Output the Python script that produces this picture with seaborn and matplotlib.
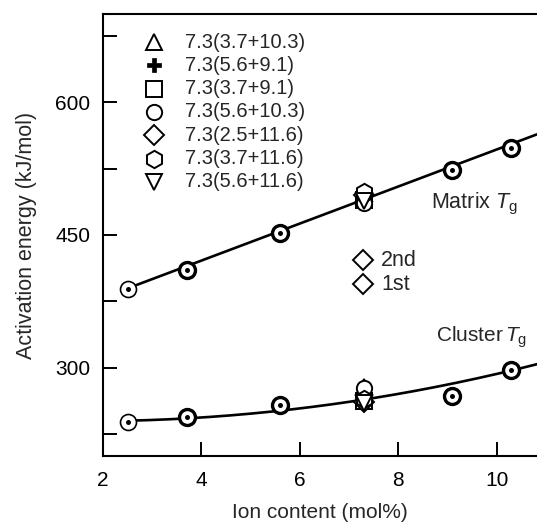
import numpy as np
import pandas as pd
import matplotlib
matplotlib.use("Agg")
import matplotlib.pyplot as plt
import seaborn as sns

sns.set_theme(style="ticks")
plt.rcParams["font.family"] = ["Liberation Sans", "DejaVu Sans"]
plt.rcParams["mathtext.fontset"] = "custom"
plt.rcParams["mathtext.rm"] = "Liberation Sans"
plt.rcParams["mathtext.it"] = "Liberation Sans:italic"

# Single-composition samples (bullseye markers)
ion_content = [2.5, 3.7, 5.6, 9.1, 10.3]
matrix_ea = [389, 410.5, 452.5, 524, 548]
cluster_ea = [239, 244, 258, 268, 297]

# Blends at 7.3 mol% average ion content
blend_labels = ["7.3(3.7+10.3)", "7.3(5.6+9.1)", "7.3(3.7+9.1)", "7.3(5.6+10.3)",
                "7.3(2.5+11.6)", "7.3(3.7+11.6)", "7.3(5.6+11.6)"]
blend_markers = ["^", "P", "s", "o", "D", "h", "v"]
blend_x = 7.3
blend_matrix = [497, 492, 490, 486, 495, 499, 488]
blend_cluster = [278, 263, 262, 277, 261, 264, 260]

# Points used for the cluster trend curve
cluster_fit_x = [2.5, 3.7, 7.3, 10.3]
cluster_fit_y = [239, 244, 263, 297]

W, H = 537, 525
L, R, T, B = 103, 537, 14, 456
fig = plt.figure(figsize=(W / 100, H / 100), dpi=100)
ax = fig.add_axes([L / W, 1 - B / H, (R - L) / W, (B - T) / H])


def ax_xy(px, py):
    """Pixel position in the figure -> axes fraction."""
    return (px - L) / (R - L), 1 - (py - T) / (B - T)


xfit = np.linspace(2.5, 10.82, 200)
m_coef = np.polyfit(ion_content + [blend_x] * len(blend_matrix),
                    matrix_ea + blend_matrix, 1)
c_coef = np.polyfit(cluster_fit_x, cluster_fit_y, 2)
fits = pd.DataFrame({"x": xfit,
                     "matrix": np.polyval(m_coef, xfit),
                     "cluster": np.polyval(c_coef, xfit)})
for col in ["matrix", "cluster"]:
    sns.lineplot(data=fits, x="x", y=col, ax=ax, color="black", lw=1.9, zorder=2)


def marker_style(mk):
    if mk == "P":
        return dict(ms=9.5, mfc="black", mec="black", mew=0.5)
    if mk == "h":
        return dict(ms=12.5, mfc="white", mec="black", mew=1.4)
    if mk == "D":
        return dict(ms=10.5, mfc="white", mec="black", mew=1.4)
    return dict(ms=11, mfc="white", mec="black", mew=1.4)


# Blend markers
for mk, ym, yc in zip(blend_markers, blend_matrix, blend_cluster):
    for yv in (ym, yc):
        ax.plot([blend_x], [yv], marker=mk, ls="none", zorder=3, **marker_style(mk))

# Bullseye markers for the single samples
for i, xv in enumerate(ion_content):
    mew = 1.2 if i == 0 else 2.4
    for yv in (matrix_ea[i], cluster_ea[i]):
        ax.plot([xv], [yv], marker="o", ms=11.5, mfc="white", mec="black",
                mew=mew, ls="none", zorder=4)
        ax.plot([xv], [yv], marker="o", ms=3.6, mfc="black", mec="black",
                mew=0, ls="none", zorder=5)

ax.set_xlim(2, 10.82)
ax.set_ylim(200, 700)
ax.set_xticks([2, 4, 6, 8, 10])
ax.set_yticks([300, 450, 600])
ax.set_yticks([225, 375, 525, 675], minor=True)
ax.tick_params(axis="both", which="both", direction="in", length=10, width=1.4,
               labelsize=15, colors="black")
ax.tick_params(axis="x", pad=11)
ax.tick_params(axis="y", pad=9)
for s in ["left", "bottom", "top"]:
    ax.spines[s].set_linewidth(1.5)
    ax.spines[s].set_color("black")
ax.spines["right"].set_visible(False)
ax.set_xlabel("Ion content (mol%)", fontsize=15, labelpad=9)
ax.set_ylabel("Activation energy (kJ/mol)", fontsize=15.5, labelpad=13)

# Key for the blend symbols
row0, step = 42, 23.3
for k, (lab, mk) in enumerate(zip(blend_labels, blend_markers)):
    py = row0 + k * step
    ax.plot(*ax_xy(154, py), marker=mk, ls="none", transform=ax.transAxes,
            clip_on=False, **marker_style(mk))
    ax.text(*ax_xy(185, py), lab, transform=ax.transAxes, fontsize=14.5,
            va="center", ha="left")

# Run-order key
for lab, py in [("2nd", 260), ("1st", 284)]:
    ax.plot(*ax_xy(363, py), marker="D", ls="none", transform=ax.transAxes,
            **marker_style("D"))
    ax.text(*ax_xy(381, py), lab, transform=ax.transAxes, fontsize=15.5,
            va="center")

ax.text(*ax_xy(431, 204), r"Matrix $T_\mathrm{g}$", transform=ax.transAxes,
        fontsize=15.5, va="center")
ax.text(*ax_xy(436, 337), r"Cluster$\,T_\mathrm{g}$", transform=ax.transAxes,
        fontsize=15, va="center")

fig.savefig("out.png", dpi=100)
